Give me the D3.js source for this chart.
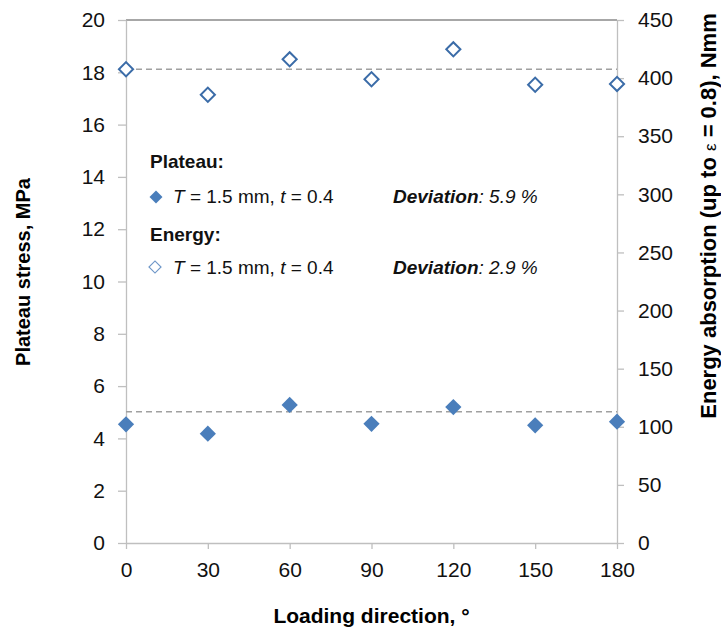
<!DOCTYPE html>
<html>
<head>
<meta charset="utf-8">
<script src="https://cdn.jsdelivr.net/npm/d3@7"></script>
<style>
  body { margin: 0; background: #fff; }
  svg { display: block; font-family: "Liberation Sans", Arial, sans-serif; }
  .axis path, .axis line { stroke: #bfbfbf; stroke-width: 1.3; }
  .axis text { font-size: 21px; fill: #111; }
</style>
</head>
<body>
<div id="chart"></div>
<script>
var width = 721, height = 629;
var margin = {top: 20, right: 104, bottom: 86, left: 126};

// data
var angles = [0, 30, 60, 90, 120, 150, 180];
var plateau = [4.54, 4.18, 5.28, 4.56, 5.2, 4.5, 4.64];      // MPa
var energy = [407.6, 385.7, 416.2, 399, 424.8, 394.3, 395];  // Nmm
var plateauRef = 5.02;
var energyRef = 407.6;
var xTicks = [0, 30, 60, 90, 120, 150, 180];
var yTicks = [0, 2, 4, 6, 8, 10, 12, 14, 16, 18, 20];
var y2Ticks = [0, 50, 100, 150, 200, 250, 300, 350, 400, 450];

var blue = "#4a7ebb";
var blueLine = "#3b6ca8";

var svg = d3.select("#chart").append("svg")
  .attr("width", width)
  .attr("height", height);

svg.append("rect").attr("width", width).attr("height", height).attr("fill", "#fff");

var x = d3.scaleLinear().domain([0, 180]).range([margin.left, width - margin.right]);
var y = d3.scaleLinear().domain([0, 20]).range([height - margin.bottom, margin.top]);
var y2 = d3.scaleLinear().domain([0, 450]).range([height - margin.bottom, margin.top]);

// top border
svg.append("line")
  .attr("x1", x(0)).attr("x2", x(180))
  .attr("y1", y(20)).attr("y2", y(20))
  .attr("stroke", "#8a8a8a").attr("stroke-width", 1.3);

svg.append("g")
  .attr("class", "axis")
  .attr("transform", "translate(0," + y(0) + ")")
  .call(d3.axisBottom(x).tickValues(xTicks).tickSize(6).tickSizeOuter(0).tickPadding(13));

svg.append("g")
  .attr("class", "axis")
  .attr("transform", "translate(" + x(0) + ",0)")
  .call(d3.axisLeft(y).tickValues(yTicks).tickSize(8).tickSizeOuter(0).tickPadding(13));

svg.append("g")
  .attr("class", "axis")
  .attr("transform", "translate(" + x(180) + ",0)")
  .call(d3.axisRight(y2).tickValues(y2Ticks).tickSize(7).tickSizeOuter(0).tickPadding(14));

// reference lines
svg.append("line")
  .attr("x1", x(0)).attr("x2", x(180))
  .attr("y1", y(plateauRef)).attr("y2", y(plateauRef))
  .attr("stroke", "#a0a0a0").attr("stroke-width", 1.5)
  .attr("stroke-dasharray", "6,4");

svg.append("line")
  .attr("x1", x(0)).attr("x2", x(180))
  .attr("y1", y2(energyRef)).attr("y2", y2(energyRef))
  .attr("stroke", "#a0a0a0").attr("stroke-width", 1.5)
  .attr("stroke-dasharray", "6,4");

var filled = d3.symbol().type(d3.symbolSquare).size(132);
var open = d3.symbol().type(d3.symbolSquare).size(100);

svg.selectAll(".plateau")
  .data(angles)
  .enter().append("path")
  .attr("class", "plateau")
  .attr("d", filled)
  .attr("fill", blue)
  .attr("transform", function(d, i) {
    return "translate(" + x(d) + "," + y(plateau[i]) + ") rotate(45)";
  });

svg.selectAll(".energy")
  .data(angles)
  .enter().append("path")
  .attr("class", "energy")
  .attr("d", open)
  .attr("fill", "#fff")
  .attr("stroke", blueLine)
  .attr("stroke-width", 2)
  .attr("transform", function(d, i) {
    return "translate(" + x(d) + "," + y2(energy[i]) + ") rotate(45)";
  });

// legend
var lg = svg.append("g").style("font-size", "19px").attr("fill", "#111");

lg.append("text").attr("x", 150).attr("y", 161).attr("dy", "0.35em")
  .style("font-weight", "bold").text("Plateau:");
lg.append("text").attr("x", 150).attr("y", 234).attr("dy", "0.35em")
  .style("font-weight", "bold").text("Energy:");

lg.append("path")
  .attr("d", d3.symbol().type(d3.symbolSquare).size(84))
  .attr("fill", blue)
  .attr("transform", "translate(156,197) rotate(45)");
lg.append("path")
  .attr("d", d3.symbol().type(d3.symbolSquare).size(72))
  .attr("fill", "#fff").attr("stroke", "#6f97c8").attr("stroke-width", 1.2)
  .attr("transform", "translate(155,267) rotate(45)");

function entry(yy, dev) {
  var t = lg.append("text").attr("x", 173).attr("y", yy).attr("dy", "0.35em");
  t.append("tspan").style("font-style", "italic").text("T");
  t.append("tspan").text(" = 1.5 mm, ");
  t.append("tspan").style("font-style", "italic").text("t");
  t.append("tspan").text(" = 0.4");
  var d = lg.append("text").attr("x", 393).attr("y", yy).attr("dy", "0.35em")
    .style("font-style", "italic");
  d.append("tspan").style("font-weight", "bold").text("Deviation");
  d.append("tspan").text(": " + dev + " %");
}
entry(196, "5.9");
entry(267, "2.9");

// axis titles
svg.append("text")
  .attr("x", (x(0) + x(180)) / 2).attr("y", 623)
  .attr("text-anchor", "middle")
  .style("font-size", "21px").style("font-weight", "bold")
  .text("Loading direction, \u00b0");

svg.append("text")
  .attr("transform", "translate(30,272) rotate(-90)")
  .attr("text-anchor", "middle")
  .style("font-size", "20px").style("font-weight", "bold")
  .text("Plateau stress, MPa");

var rt = svg.append("text")
  .attr("transform", "translate(716,216) rotate(-90)")
  .attr("text-anchor", "middle")
  .style("font-size", "22px").style("font-weight", "bold");
rt.append("tspan").text("Energy absorption (up to ");
rt.append("tspan").style("font-weight", "normal").style("font-size", "17px").text("\u03b5");
rt.append("tspan").text(" = 0.8), Nmm");
</script>
</body>
</html>
